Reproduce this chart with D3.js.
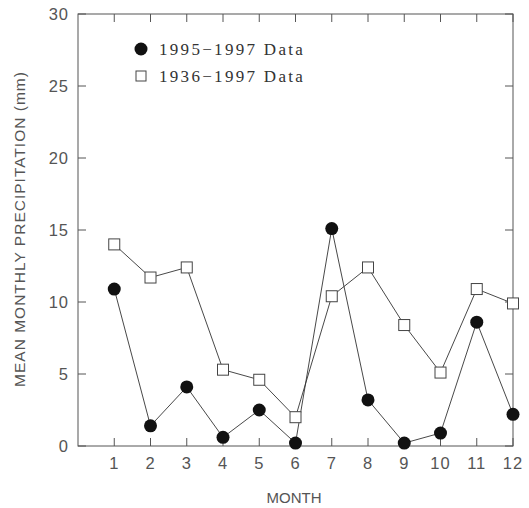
<!DOCTYPE html>
<html>
<head>
<meta charset="utf-8">
<script src="https://cdn.jsdelivr.net/npm/d3@7"></script>
<style>
  body { margin: 0; background: #fff; }
  svg { display: block; }
</style>
</head>
<body>
<script>
// data
var months = [1, 2, 3, 4, 5, 6, 7, 8, 9, 10, 11, 12];
var recent = [10.9, 1.4, 4.1, 0.6, 2.5, 0.2, 15.1, 3.2, 0.2, 0.9, 8.6, 2.2];   // 1995-1997
var longTerm = [14.0, 11.7, 12.4, 5.3, 4.6, 2.0, 10.4, 12.4, 8.4, 5.1, 10.9, 9.9]; // 1936-1997
var yTicks = [0, 5, 10, 15, 20, 25, 30];
var seriesNames = ["1995\u22121997 Data", "1936\u22121997 Data"];

var W = 529, H = 508;
// plot frame (note: "top" is reserved on window, so use other names)
var pl = 78, pr = 513, pt = 14, pb = 446;

var x = d3.scaleLinear().domain([0, 12]).range([pl, pr]);
var y = d3.scaleLinear().domain([0, 30]).range([pb, pt]);

var svg = d3.select("body").append("svg")
    .attr("width", W)
    .attr("height", H);

var axisColor = "#555";
var tickLen = 8;

// frame
svg.append("rect")
    .attr("x", pl).attr("y", pt)
    .attr("width", pr - pl).attr("height", pb - pt)
    .attr("fill", "none")
    .attr("stroke", axisColor)
    .attr("stroke-width", 1);

// ticks, inward on all four sides
var ticksG = svg.append("g").attr("stroke", axisColor).attr("stroke-width", 1);
months.forEach(function(m) {
    ticksG.append("line").attr("x1", x(m)).attr("x2", x(m)).attr("y1", pb).attr("y2", pb - tickLen);
    ticksG.append("line").attr("x1", x(m)).attr("x2", x(m)).attr("y1", pt).attr("y2", pt + tickLen);
});
yTicks.forEach(function(t) {
    ticksG.append("line").attr("x1", pl).attr("x2", pl + tickLen).attr("y1", y(t)).attr("y2", y(t));
    ticksG.append("line").attr("x1", pr).attr("x2", pr - tickLen).attr("y1", y(t)).attr("y2", y(t));
});

// tick labels - thin light sans
var labelFont = "'Liberation Sans', Arial, sans-serif";
var labelColor = "#555";

svg.append("g").selectAll("text")
    .data(months)
    .enter().append("text")
    .attr("x", function(d) { return x(d); })
    .attr("y", 469)
    .attr("text-anchor", "middle")
    .style("font-family", labelFont)
    .style("font-size", "16.5px")
    .style("letter-spacing", "1px")
    .style("fill", labelColor)
    .text(function(d) { return d; });

svg.append("g").selectAll("text")
    .data(yTicks)
    .enter().append("text")
    .attr("x", pl - 9)
    .attr("y", function(d) { return y(d); })
    .attr("dy", "0.36em")
    .attr("text-anchor", "end")
    .style("font-family", labelFont)
    .style("font-size", "16.5px")
    .style("letter-spacing", "1px")
    .style("fill", labelColor)
    .text(function(d) { return d; });

// axis titles
svg.append("text")
    .attr("x", 294)
    .attr("y", 503)
    .attr("text-anchor", "middle")
    .style("font-family", labelFont)
    .style("font-size", "15px")
    .style("fill", labelColor)
    .text("MONTH");

svg.append("text")
    .attr("transform", "translate(25,229) rotate(-90)")
    .attr("text-anchor", "middle")
    .style("font-family", labelFont)
    .style("font-size", "15.5px")
    .style("letter-spacing", "1px")
    .style("fill", labelColor)
    .text("MEAN MONTHLY PRECIPITATION (mm)");

// lines
var line = d3.line()
    .x(function(d, i) { return x(months[i]); })
    .y(function(d) { return y(d); });

svg.append("path")
    .datum(longTerm)
    .attr("d", line)
    .attr("fill", "none")
    .attr("stroke", "#333")
    .attr("stroke-width", 0.9);

svg.append("path")
    .datum(recent)
    .attr("d", line)
    .attr("fill", "none")
    .attr("stroke", "#333")
    .attr("stroke-width", 0.9);

// markers
var sq = 11;
svg.append("g").selectAll("rect")
    .data(longTerm)
    .enter().append("rect")
    .attr("x", function(d, i) { return x(months[i]) - sq / 2; })
    .attr("y", function(d) { return y(d) - sq / 2; })
    .attr("width", sq).attr("height", sq)
    .attr("fill", "#fff")
    .attr("stroke", "#444")
    .attr("stroke-width", 1);

svg.append("g").selectAll("circle")
    .data(recent)
    .enter().append("circle")
    .attr("cx", function(d, i) { return x(months[i]); })
    .attr("cy", function(d) { return y(d); })
    .attr("r", 6.5)
    .attr("fill", "#111");

// legend
var legendFont = "'Liberation Serif', 'DejaVu Serif', serif";
var legend = svg.append("g");
legend.append("circle").attr("cx", 141).attr("cy", 49).attr("r", 6.5).attr("fill", "#111");
legend.append("rect").attr("x", 136).attr("y", 71).attr("width", 10).attr("height", 10)
    .attr("fill", "#fff").attr("stroke", "#444");
legend.selectAll("text")
    .data(seriesNames)
    .enter().append("text")
    .attr("x", 159)
    .attr("y", function(d, i) { return 49 + i * 27; })
    .attr("dy", "0.35em")
    .style("font-family", legendFont)
    .style("font-size", "17px")
    .style("letter-spacing", "2.3px")
    .style("fill", "#333")
    .text(function(d) { return d; });
</script>
</body>
</html>
